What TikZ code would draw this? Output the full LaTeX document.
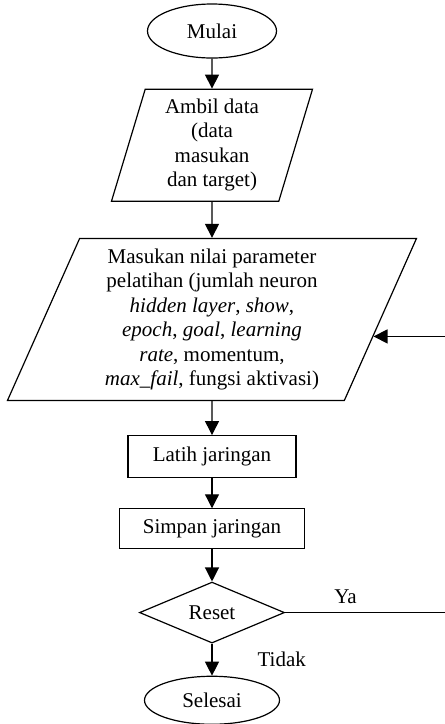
\documentclass[tikz,border=0pt]{standalone}
\usepackage{fontspec}
\setmainfont{Liberation Serif}
\usetikzlibrary{shapes.geometric, arrows.meta, positioning}

\begin{document}
\begin{tikzpicture}[
  x=1pt, y=-1pt,
  line width=1.2pt,
  every node/.style={font=\fontsize{21}{24.5}\selectfont},
  terminal/.style={ellipse, draw, minimum width=129pt, minimum height=54pt},
  io/.style={trapezium, draw, trapezium stretches body, align=center, inner sep=0pt},
  process/.style={rectangle, draw, minimum height=41pt},
  decision/.style={diamond, draw, aspect=2.4, inner sep=0pt, minimum width=145pt, minimum height=61pt},
  arrow/.style={-{Triangle[length=14pt,width=14pt]}}
]
\useasboundingbox (0,0) rectangle (445,724);

\node[terminal] (start) at (212,31) {Mulai};

\node[io, below=30pt of start, trapezium left angle=70, trapezium right angle=110,
  minimum width=201pt, minimum height=112pt] (data)
{Ambil data\\
(data\\
masukan\\
dan target)};

\node[io, below=36pt of data, trapezium left angle=63, trapezium right angle=117,
  minimum width=409pt, minimum height=162pt] (param)
{Masukan nilai parameter\\
pelatihan (jumlah neuron\\
\textit{hidden layer}, \textit{show},\\
\textit{epoch}, \textit{goal}, \textit{learning}\\
\textit{rate}, momentum,\\
\textit{max\_fail}, fungsi aktivasi)};

\node[process, below=34pt of param, minimum width=168pt, minimum height=42pt] (train) {Latih jaringan};

\node[process, below=30pt of train, minimum width=185pt, minimum height=40pt] (save) {Simpan jaringan};

\node[decision, below=32pt of save] (reset) {Reset};

\node[terminal, below=32pt of reset, minimum width=135pt, minimum height=48pt] (stop) {Selesai};

\coordinate[right=168pt of reset.east] (back);

% Arrows (straight down, centered)
\draw[arrow] (start) -- (data);
\draw[arrow] (data) -- (param);
\draw[arrow] (param) -- (train);
\draw[arrow] (train) -- (save);
\draw[arrow] (save) -- (reset);
\draw[arrow] (reset) -- node[right=45pt, inner sep=0pt] (no) {Tidak} (stop);

% loop back to the parameter input
\draw[arrow] (reset.east) -- node[above=8pt, pos=.36, inner sep=0pt] (yes) {Ya} (back) |- (param.-6);

\end{tikzpicture}
\end{document}
